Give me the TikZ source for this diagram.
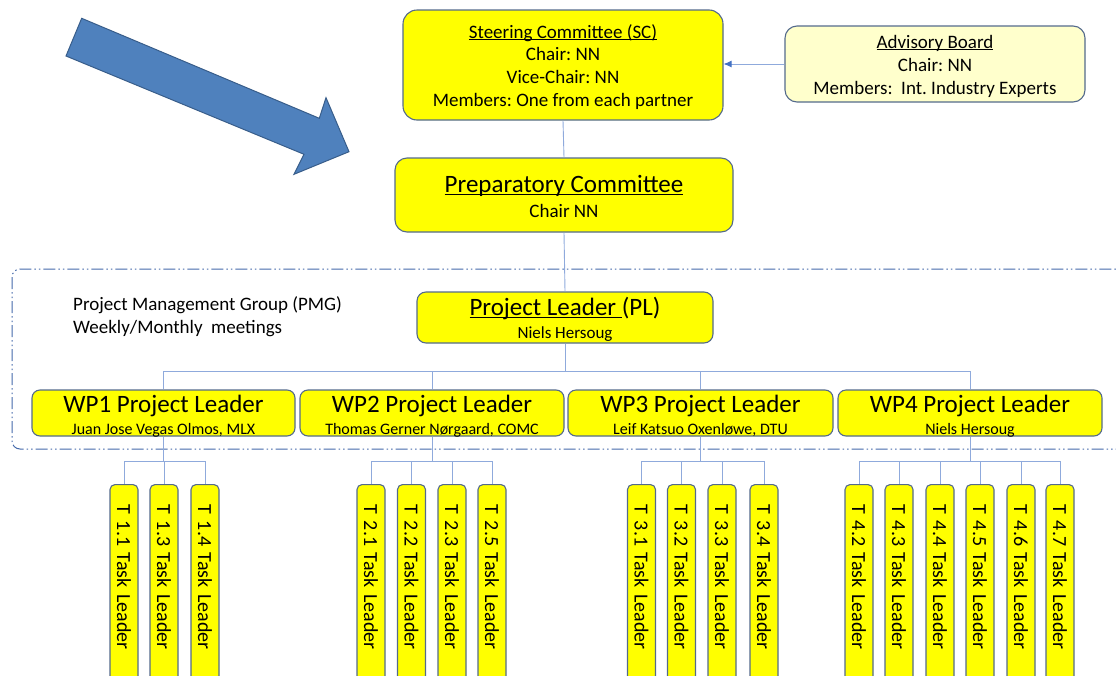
\documentclass[tikz,border=0pt]{standalone}
\usepackage{fontspec}
\setmainfont{Carlito}
\usetikzlibrary{arrows.meta}
\definecolor{boxyellow}{RGB}{255,255,0}
\definecolor{boxedge}{RGB}{84,106,140}
\definecolor{conncol}{RGB}{143,170,220}
\definecolor{tipcol}{RGB}{68,114,196}
\definecolor{advfill}{RGB}{255,255,204}
\definecolor{arrowfill}{RGB}{79,129,189}
\definecolor{arrowedge}{RGB}{56,93,138}
\definecolor{pmgcol}{RGB}{68,105,170}
\newcommand\myul[1]{\setbox0\hbox{#1}\rlap{\rule[-0.12em]{\wd0}{0.06em}}\box0}
\frenchspacing
\begin{document}
\begin{tikzpicture}[x=1pt,y=-1pt,
  box/.style={draw=boxedge, fill=boxyellow, line width=1.1pt, rounded corners=#1, inner sep=0pt},
  box/.default=8pt,
  conn/.style={draw=conncol, line width=0.9pt},
  txt/.style={anchor=base, inner sep=0pt, text=black},
  f19/.style={font=\fontsize{19}{23}\selectfont},
  f25/.style={font=\fontsize{25}{30}\selectfont},
  f17/.style={font=\fontsize{17}{20}\selectfont},
  f16/.style={font=\fontsize{16}{19}\selectfont},
  taskbox/.style={draw=boxedge, fill=boxyellow, line width=1.1pt, rounded corners=5pt,
    rotate=-90, anchor=west, minimum height=28pt, text width=190pt, inner xsep=20pt,
    inner ysep=0pt, align=left, font=\fontsize{20}{24}\selectfont},
  pmgline/.style={draw=pmgcol, line width=1pt, rounded corners=8pt,
    dash pattern=on 12pt off 3pt on 1.5pt off 3pt on 1.5pt off 3pt}
]
\useasboundingbox (0,0) rectangle (1116,675);
\clip (0,0) rectangle (1116,675);

% big arrow
\draw[fill=arrowfill, draw=arrowedge, line width=1pt, line join=miter]
  (81.7,18.3) -- (319.3,118.3) -- (326,97.7) -- (349,151.7) -- (294,174.3) -- (304,154.3) -- (66,56) -- cycle;

% PMG dash-dot frame
\draw[pmgline] (12,269) rectangle (1135,449);
\node[txt, anchor=base west, f19] (pmg1) at (73,310) {Project Management Group (PMG)};
\node[txt, anchor=base west, f19] (pmg2) at (73,333) {Weekly/Monthly\ \ meetings};

% Steering committee
\node[box=14pt, minimum width=320pt, minimum height=110pt] (sc) at (563,65) {};
\node[txt, f19] (sc1) at (563,38) {\myul{Steering Committee (SC)}};
\node[txt, f19] (sc2) at (563,60.5) {Chair: NN};
\node[txt, f19] (sc3) at (563,83.5) {Vice-Chair: NN};
\node[txt, f19] (sc4) at (563,106.5) {Members: One from each partner};

% Advisory board
\node[box=12pt, fill=advfill, minimum width=300pt, minimum height=76pt] (ab) at (935,64) {};
\node[txt, f19] (ab1) at (935,48) {\myul{Advisory Board}};
\node[txt, f19] (ab2) at (935,71) {Chair: NN};
\node[txt, f19] (ab3) at (935,94) {Members:\ \ Int. Industry Experts};

% Preparatory committee
\node[box=12pt, minimum width=338pt, minimum height=74pt] (prep) at (564,195) {};
\node[txt, f25] (prep1) at (564,192) {\myul{Preparatory Committee}};
\node[txt, f19] (prep2) at (564,217) {Chair NN};

% Project leader
\node[box=9pt, minimum width=296pt, minimum height=51pt] (pl) at (565,317.5) {};
\node[txt, f25] (pl1) at (565,315) {\myul{Project Leader\ }(PL)};
\node[txt, f17] (pl2) at (565,338) {Niels Hersoug};

% WP leaders
\node[box=8pt, minimum width=263pt, minimum height=46pt] (wp1) at (163.5,413) {};
\node[box=8pt, minimum width=264pt, minimum height=46pt] (wp2) at (432,413) {};
\node[box=8pt, minimum width=265pt, minimum height=46pt] (wp3) at (700.5,413) {};
\node[box=8pt, minimum width=264pt, minimum height=46pt] (wp4) at (970,413) {};
\node[txt, f25] (wp1a) at (163.5,412) {WP1 Project Leader};
\node[txt, f16] (wp1b) at (163.5,434) {Juan Jose Vegas Olmos, MLX};
\node[txt, f25] (wp2a) at (432,412) {WP2 Project Leader};
\node[txt, f16] (wp2b) at (432,434) {Thomas Gerner Nørgaard, COMC};
\node[txt, f25] (wp3a) at (700.5,412) {WP3 Project Leader};
\node[txt, f16] (wp3b) at (700.5,434) {Leif Katsuo Oxenløwe, DTU};
\node[txt, f25] (wp4a) at (970,412) {WP4 Project Leader};
\node[txt, f16] (wp4b) at (970,434) {Niels Hersoug};

% task leaders
\node[taskbox] (t11) at (124,484) {T 1.1 Task Leader};
\node[taskbox] (t13) at (164,484) {T 1.3 Task Leader};
\node[taskbox] (t14) at (205,484) {T 1.4 Task Leader};
\node[taskbox] (t21) at (371,484) {T 2.1 Task Leader};
\node[taskbox] (t22) at (411.5,484) {T 2.2 Task Leader};
\node[taskbox] (t23) at (452,484) {T 2.3 Task Leader};
\node[taskbox] (t25) at (492,484) {T 2.5 Task Leader};
\node[taskbox] (t31) at (641.5,484) {T 3.1 Task Leader};
\node[taskbox] (t32) at (681.5,484) {T 3.2 Task Leader};
\node[taskbox] (t33) at (722,484) {T 3.3 Task Leader};
\node[taskbox] (t34) at (764,484) {T 3.4 Task Leader};
\node[taskbox] (t42) at (859,484) {T 4.2 Task Leader};
\node[taskbox] (t43) at (899,484) {T 4.3 Task Leader};
\node[taskbox] (t44) at (940,484) {T 4.4 Task Leader};
\node[taskbox] (t45) at (980,484) {T 4.5 Task Leader};
\node[taskbox] (t46) at (1021,484) {T 4.6 Task Leader};
\node[taskbox] (t47) at (1060,484) {T 4.7 Task Leader};

% connectors
\draw[conn, -{Latex[length=8pt,width=7pt,color=tipcol]}] (ab.west) -- (ab.west -| sc.east);
\draw[conn] (sc.south) -- (prep.north);
\draw[conn] (prep.south) -- (pl.north);
\path (pl.south) ++(0,28) coordinate (bus);
\draw[conn] (pl.south) -- (bus);
\draw[conn] (bus) -| (wp1.north);
\draw[conn] (bus) -| (wp2.north);
\draw[conn] (bus) -| (wp3.north);
\draw[conn] (bus) -| (wp4.north);

\path (wp1.south) ++(0,25) coordinate (j1);
\path (wp2.south) ++(0,25) coordinate (j2);
\path (wp3.south) ++(0,25) coordinate (j3);
\path (wp4.south) ++(0,25) coordinate (j4);
\draw[conn] (wp1.south) -- (j1);
\draw[conn] (wp2.south) -- (j2);
\draw[conn] (wp3.south) -- (j3);
\draw[conn] (wp4.south) -- (j4);
\foreach \t in {t11,t13,t14} \draw[conn] (j1) -| (\t.west);
\foreach \t in {t21,t22,t23,t25} \draw[conn] (j2) -| (\t.west);
\foreach \t in {t31,t32,t33,t34} \draw[conn] (j3) -| (\t.west);
\foreach \t in {t42,t43,t44,t45,t46,t47} \draw[conn] (j4) -| (\t.west);
\end{tikzpicture}
\end{document}
